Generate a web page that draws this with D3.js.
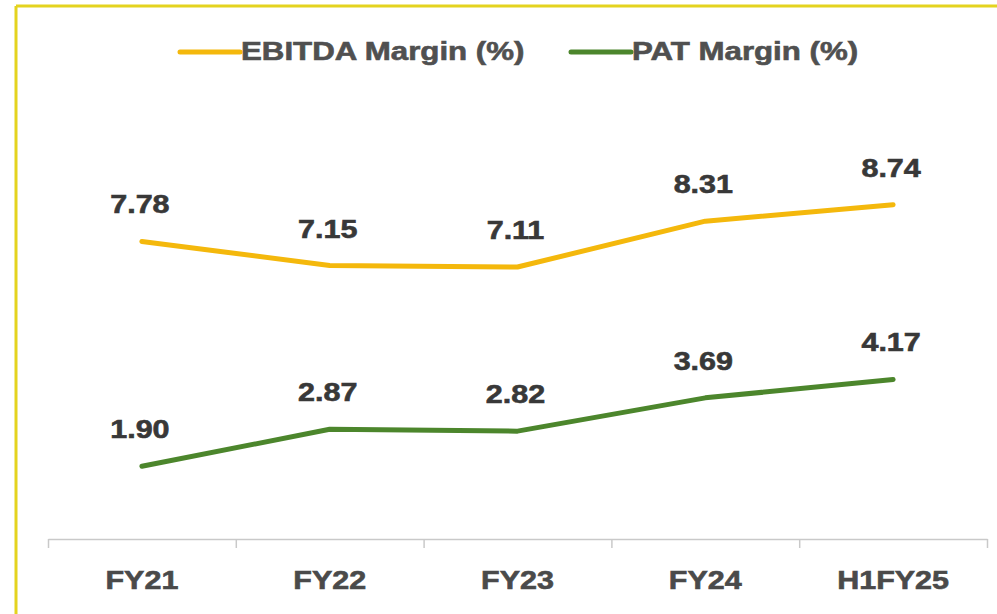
<!DOCTYPE html>
<html>
<head>
<meta charset="utf-8">
<script src="https://cdn.jsdelivr.net/npm/d3@7"></script>
<style>
  body { margin: 0; background: #fff; }
  svg text { font-family: "Liberation Sans", Arial, sans-serif; font-weight: 700; }
</style>
</head>
<body>
<svg id="chart" width="997" height="614"></svg>
<script>
var categories = ["FY21", "FY22", "FY23", "FY24", "H1FY25"];
var ebitdaMargin = [7.78, 7.15, 7.11, 8.31, 8.74];
var patMargin = [1.90, 2.87, 2.82, 3.69, 4.17];
var seriesNames = ["EBITDA Margin (%)", "PAT Margin (%)"];

var colors = ["#f4b80c", "#4c862c"];
var stretch = 1.22;

var svg = d3.select("#chart");

// frame
svg.append("line").attr("x1", 16).attr("y1", 6).attr("x2", 997).attr("y2", 6)
    .attr("stroke", "#e4d31f").attr("stroke-width", 3);
svg.append("line").attr("x1", 16).attr("y1", 6).attr("x2", 16).attr("y2", 614)
    .attr("stroke", "#e4d31f").attr("stroke-width", 3);

var x = d3.scaleBand().domain(categories).range([48, 987]).padding(0);
var y = d3.scaleLinear().domain([0, 12]).range([539, 80]);
var tickScale = d3.scaleLinear().domain([0, categories.length]).range([48, 987]);

function cx(d) { return x(d) + x.bandwidth() / 2; }

// axis line with boundary ticks
var axisG = svg.append("g").attr("transform", "translate(0,539)")
    .call(d3.axisBottom(tickScale).ticks(categories.length).tickFormat("").tickSize(9).tickSizeOuter(0));
axisG.selectAll("path, line").attr("stroke", "#c9c9c9").attr("stroke-width", 1.5);

// category labels
var labelG = svg.append("g").attr("transform", "translate(0,539)")
    .call(d3.axisBottom(x).tickSize(0).tickPadding(0));
labelG.select(".domain").remove();
labelG.selectAll("text").remove();
labelG.selectAll(".tick").append("text")
    .attr("transform", "translate(0,50) scale(" + stretch + ",1)")
    .attr("text-anchor", "middle")
    .attr("fill", "#4a4a4a")
    .attr("stroke", "#4a4a4a")
    .attr("stroke-width", 0.6)
    .attr("font-size", 25)
    .text(function(d) { return d; });

var allSeries = [ebitdaMargin, patMargin];

var line = d3.line()
    .x(function(d, i) { return cx(categories[i]); })
    .y(function(d) { return y(d); });

allSeries.forEach(function(vals, s) {
    svg.append("path")
        .datum(vals)
        .attr("d", line)
        .attr("fill", "none")
        .attr("stroke", colors[s])
        .attr("stroke-width", 5)
        .attr("stroke-linecap", "round")
        .attr("stroke-linejoin", "round");

    svg.append("g").selectAll("text")
        .data(vals)
        .enter()
        .append("text")
        .attr("transform", function(d, i) {
            return "translate(" + (cx(categories[i]) - 2) + "," + (y(d) - 28) + ") scale(" + stretch + ",1)";
        })
        .attr("text-anchor", "middle")
        .attr("fill", "#383838")
        .attr("stroke", "#383838")
        .attr("stroke-width", 0.6)
        .attr("font-size", 25)
        .text(function(d) { return d.toFixed(2); });
});

// legend
var legendX = [180, 571];
seriesNames.forEach(function(name, s) {
    var g = svg.append("g").attr("transform", "translate(" + legendX[s] + ",52)");
    g.append("line").attr("x1", 0).attr("x2", 60).attr("y1", 0).attr("y2", 0)
        .attr("stroke", colors[s]).attr("stroke-width", 5).attr("stroke-linecap", "round");
    g.append("text")
        .attr("transform", "translate(61,8) scale(1.25,1)")
        .attr("fill", "#505050")
        .attr("stroke", "#505050")
        .attr("stroke-width", 0.6)
        .attr("font-size", 25)
        .text(name);
});
</script>
</body>
</html>
